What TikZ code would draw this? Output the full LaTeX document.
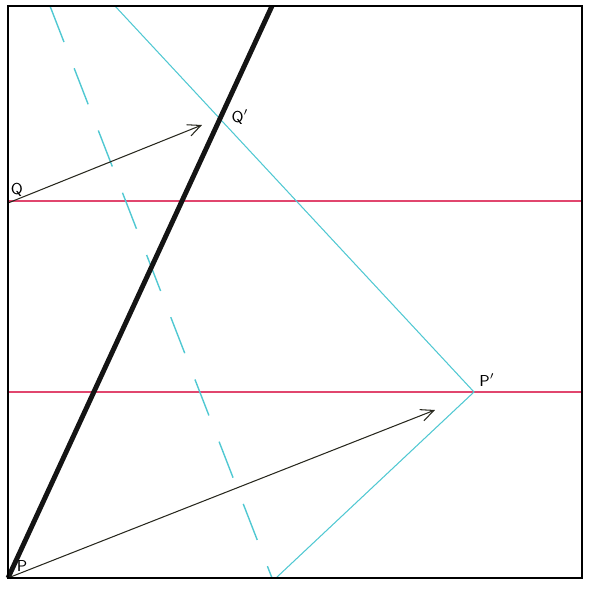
\documentclass[tikz,border=0pt]{standalone}
\usepackage{tikz}
\usetikzlibrary{arrows.meta,positioning,calc}
\usepackage{xcolor}
\tikzset{>={Straight Barb[length=2.6mm,width=2.4mm]}}
\definecolor{mirrorcolor}{RGB}{20,20,20}
\definecolor{raycolor}{RGB}{80,200,210}
\definecolor{levelcolor}{RGB}{225,70,110}
\definecolor{vectorcolor}{RGB}{40,40,30}

\begin{document}
\begin{tikzpicture}[x=0.02cm,y=-0.02cm,every node/.style={font=\sffamily\small}]
  \useasboundingbox (0,0) rectangle (600,594);
  % corners and points
  \coordinate (tl) at (8,6);
  \coordinate (br) at (582,578);
  \coordinate (P) at (8,578);
  \coordinate (Q) at (8,203);
  \coordinate (Pimg) at (474,392);
  \coordinate (Qtip) at (202,125);
  \coordinate (Ptip) at (435,410);
  \coordinate (mtop) at (272,6);
  \coordinate (rtop) at (115,6);
  \coordinate (rbot) at (276,578);
  \coordinate (dtop) at (50,6);
  \coordinate (dbot) at (272,578);
  % red levels
  \foreach \y in {201,392}{
    \draw[levelcolor,line width=0.7pt] (8,\y) -- (582,\y);
  }
  % cyan rays
  \draw[raycolor,line width=0.6pt] (rtop) -- (Pimg) -- (rbot);
  \draw[raycolor,line width=0.8pt,dash pattern=on 22pt off 16pt] (dtop) -- (dbot);
  % mirror line
  \draw[mirrorcolor,line width=2.8pt] (P) -- (mtop);
  % vectors
  \draw[->,vectorcolor,line width=0.6pt] (Q) -- (Qtip);
  \draw[->,vectorcolor,line width=0.6pt] (P) -- (Ptip);
  % frame
  \draw[black,line width=1.1pt] (tl) rectangle (br);
  % labels
  \node (labQ) at (17,190) {Q};
  \node (labQp) at (240,117) {Q$'$};
  \node (labP) at (22,566) {P};
  \node (labPp) at (487,380) {P$'$};
\end{tikzpicture}
\end{document}
